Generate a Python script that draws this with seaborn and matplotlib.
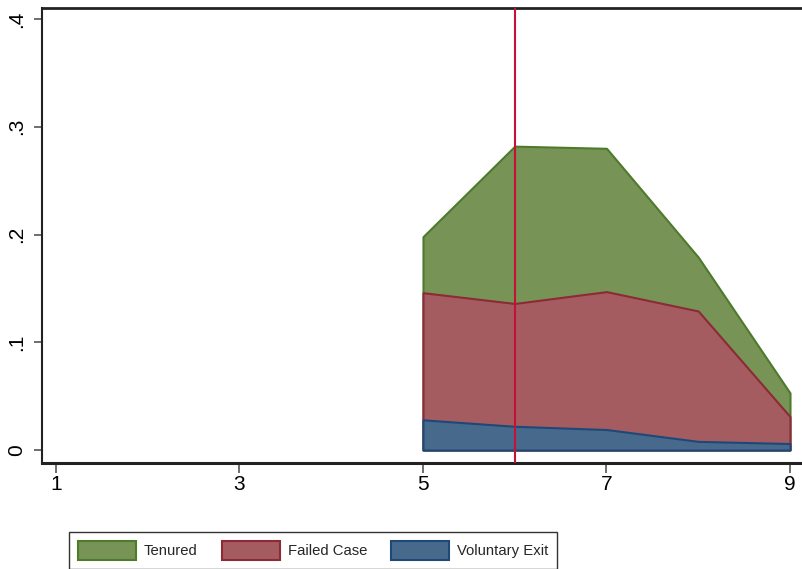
import matplotlib
matplotlib.use("Agg")
import matplotlib.pyplot as plt
import numpy as np
import pandas as pd
import seaborn as sns

# Data: share of cohort by outcome, per period
periods = [5, 6, 7, 8, 9]
voluntary_exit = [0.028, 0.022, 0.019, 0.008, 0.006]
failed_case = [0.118, 0.114, 0.128, 0.121, 0.025]
tenured = [0.052, 0.146, 0.133, 0.050, 0.022]
series_names = ["Tenured", "Failed Case", "Voluntary Exit"]
x_ticks = [1, 3, 5, 7, 9]
y_ticks = [0, 0.1, 0.2, 0.3, 0.4]
y_tick_labels = ["0", ".1", ".2", ".3", ".4"]
event_period = 6

sns.set_theme(style="white")
plt.rcParams["font.family"] = ["Liberation Sans", "DejaVu Sans"]

df = pd.DataFrame({
    "period": periods,
    "Voluntary Exit": voluntary_exit,
    "Failed Case": failed_case,
    "Tenured": tenured,
})
df["lvl_vol"] = df["Voluntary Exit"]
df["lvl_fail"] = df["lvl_vol"] + df["Failed Case"]
df["lvl_ten"] = df["lvl_fail"] + df["Tenured"]

fig = plt.figure(figsize=(8.03, 5.69), dpi=100)
W, H = 803, 569
ax = fig.add_axes([42 / W, 1 - 463 / H, 1 - 42 / W, (463 - 8) / H])

fills = {
    "Tenured": ("#779456", "#4e7a2c", "lvl_ten"),
    "Failed Case": ("#a45c61", "#8c2a36", "lvl_fail"),
    "Voluntary Exit": ("#476a8c", "#1d4878", "lvl_vol"),
}
handles = []
for name in series_names:
    fc, ec, col = fills[name]
    h = ax.fill_between(df["period"], 0, df[col], facecolor=fc, edgecolor=ec,
                        linewidth=1.5, label=name, zorder=2)
    handles.append(h)

ax.axvline(event_period, color="#c41236", linewidth=1.5, zorder=3)

ax.set_xlim(1 - 14 / 91.75, 9 + 13 / 91.75)
ax.set_ylim(-13 / 1077.5, 0.4 + 11 / 1077.5)
ax.set_xticks(x_ticks)
ax.set_xticklabels([str(t) for t in x_ticks], fontsize=15)
ax.set_yticks(y_ticks)
ax.set_yticklabels(y_tick_labels, fontsize=15, rotation=90, va="center")

ax.tick_params(axis="x", direction="out", length=7, width=1.2, color="#555555",
               pad=1.5, bottom=True, labelcolor="black")
ax.tick_params(axis="y", direction="out", length=6, width=1.2, color="#555555",
               pad=5.5, left=True, labelcolor="black")

for side in ["left", "top", "bottom"]:
    ax.spines[side].set_visible(True)
    ax.spines[side].set_color("#222222")
ax.spines["right"].set_visible(False)
ax.spines["bottom"].set_linewidth(2.2)
ax.spines["top"].set_linewidth(2.0)
ax.spines["left"].set_linewidth(1.5)
ax.set_facecolor("white")
ax.grid(False)

leg = fig.legend(handles=handles, labels=series_names, loc="upper left",
                 bbox_to_anchor=(69 / W, 1 - 531.7 / H), ncol=3, fontsize=10.7,
                 frameon=True, fancybox=False, edgecolor="black",
                 handlelength=3.9, handleheight=1.6, handletextpad=0.55,
                 columnspacing=1.6, borderpad=0.6, borderaxespad=0)
leg.get_frame().set_linewidth(1.0)

fig.savefig("out.png", dpi=100, facecolor="white")
